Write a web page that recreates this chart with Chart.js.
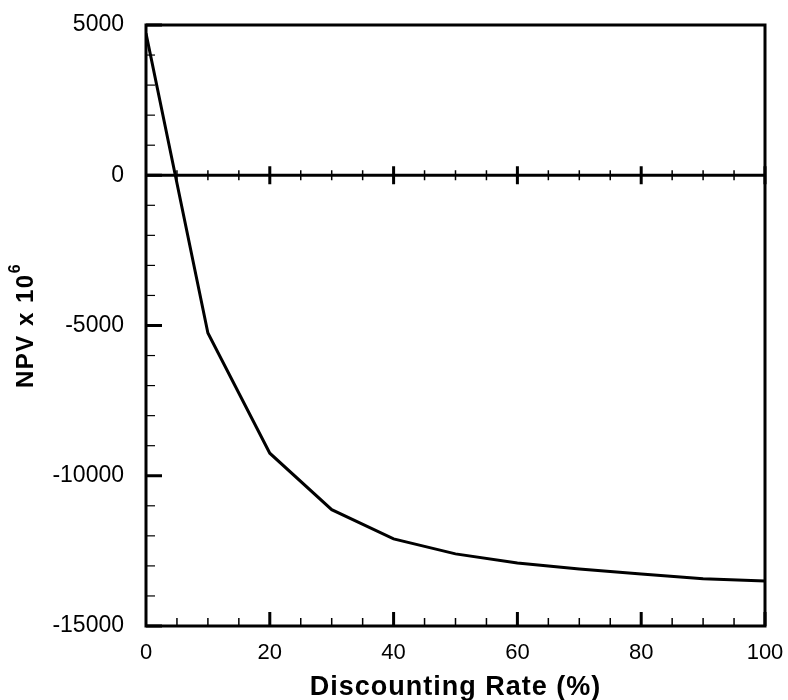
<!DOCTYPE html>
<html>
<head>
<meta charset="utf-8">
<script src="https://cdn.jsdelivr.net/npm/chart.js@4"></script>
<style>
html,body{margin:0;padding:0;background:#fff;}
#wrap{width:788px;height:700px;position:relative;}
</style>
</head>
<body>
<div id="wrap"><canvas id="c" width="788" height="700"></canvas></div>
<script>
const rates = [0, 10, 20, 30, 40, 50, 60, 70, 80, 90, 100];
const npv = [4720, -5250, -9250, -11130, -12100, -12600, -12900, -13100, -13270, -13430, -13500];
const xTitle = 'Discounting Rate (%)';
const yTitleMain = 'NPV x 10';
const yTitleSup = '6';
const xMin = 0, xMax = 100, xMajor = 20, xMinor = 5;
const yMin = -15000, yMax = 5000, yMajor = 5000, yMinor = 1000;

const FONT = '"Liberation Sans", Arial, Helvetica, sans-serif';

const framePlugin = {
  id: 'frame',
  afterDatasetsDraw(chart) {
    const ctx = chart.ctx;
    const a = chart.chartArea;
    const xs = chart.scales.x, ys = chart.scales.y;
    ctx.save();
    ctx.strokeStyle = '#000';
    ctx.lineCap = 'butt';
    ctx.lineWidth = 3;
    ctx.beginPath();
    ctx.moveTo(a.left, a.top); ctx.lineTo(a.right, a.top);
    ctx.moveTo(a.right, a.top - 1.5); ctx.lineTo(a.right, a.bottom + 1.5);
    ctx.moveTo(a.left - 1.5, a.bottom); ctx.lineTo(a.right + 1.5, a.bottom);
    ctx.moveTo(a.left, a.top - 1.5); ctx.lineTo(a.left, a.bottom + 1.5);
    ctx.stroke();
    const y0 = ys.getPixelForValue(0);
    ctx.beginPath();
    ctx.moveTo(a.left, y0); ctx.lineTo(a.right, y0);
    ctx.stroke();
    for (let v = xMin; v <= xMax + 1e-9; v += xMinor) {
      const px = xs.getPixelForValue(v);
      const major = Math.abs(v / xMajor - Math.round(v / xMajor)) < 1e-9;
      if (v === xMin) continue;
      ctx.lineWidth = major ? 3 : 1.5;
      const len = major ? 14 : 8;
      ctx.beginPath();
      ctx.moveTo(px, a.bottom); ctx.lineTo(px, a.bottom - len);
      const zl = major ? 9 : 5;
      ctx.moveTo(px, y0 - zl); ctx.lineTo(px, y0 + zl);
      ctx.stroke();
    }
    for (let v = yMin; v <= yMax + 1e-9; v += yMinor) {
      const py = ys.getPixelForValue(v);
      const major = Math.abs(v / yMajor - Math.round(v / yMajor)) < 1e-9;
      ctx.lineWidth = major ? 3 : 1.2;
      const len = major ? 16 : 9;
      ctx.beginPath();
      ctx.moveTo(a.left, py); ctx.lineTo(a.left + len, py);
      ctx.stroke();
    }
    ctx.restore();
  },
  afterDraw(chart) {
    const ctx = chart.ctx;
    const a = chart.chartArea;
    ctx.save();
    ctx.fillStyle = '#000';
    ctx.letterSpacing = '1px';
    ctx.font = 'bold 27px ' + FONT;
    ctx.textAlign = 'center';
    ctx.textBaseline = 'alphabetic';
    ctx.fillText(xTitle, (a.left + a.right) / 2, 695);
    ctx.translate(23, (a.top + a.bottom) / 2);
    ctx.rotate(-Math.PI / 2);
    ctx.letterSpacing = '1.5px';
    ctx.font = 'bold 24px ' + FONT;
    const wMain = ctx.measureText(yTitleMain).width;
    ctx.font = 'bold 16px ' + FONT;
    const wSup = ctx.measureText(yTitleSup).width;
    const start = -(wMain + wSup) / 2;
    ctx.textAlign = 'left';
    ctx.font = 'bold 24px ' + FONT;
    ctx.fillText(yTitleMain, start, 10);
    ctx.font = 'bold 16px ' + FONT;
    ctx.fillText(yTitleSup, start + wMain, -3);
    ctx.restore();
  }
};

new Chart(document.getElementById('c'), {
  type: 'line',
  data: {
    datasets: [{
      data: rates.map((r, i) => ({ x: r, y: npv[i] })),
      borderColor: '#000',
      borderWidth: 3,
      pointRadius: 0,
      fill: false,
      tension: 0
    }]
  },
  options: {
    responsive: false,
    animation: false,
    devicePixelRatio: 1,
    layout: { padding: { left: 0, top: 25, right: 23, bottom: 0 } },
    plugins: { legend: { display: false }, tooltip: { enabled: false }, title: { display: false } },
    scales: {
      x: {
        type: 'linear', min: xMin, max: xMax,
        grid: { display: false, drawTicks: false },
        border: { display: false },
        ticks: { stepSize: xMajor, padding: 14, color: '#000', font: { family: FONT, size: 22 }, maxRotation: 0,
                 callback: (v) => String(v) },
        afterFit(s) { s.height = 74; s.paddingLeft = 0; s.paddingRight = 0; }
      },
      y: {
        type: 'linear', min: yMin, max: yMax,
        grid: { display: false, drawTicks: false },
        border: { display: false },
        ticks: { stepSize: yMajor, padding: 22, color: '#000', font: { family: FONT, size: 23 },
                 callback: (v) => String(v) },
        afterFit(s) { s.width = 146; s.paddingTop = 0; s.paddingBottom = 0; }
      }
    }
  },
  plugins: [framePlugin]
});
</script>
</body>
</html>
